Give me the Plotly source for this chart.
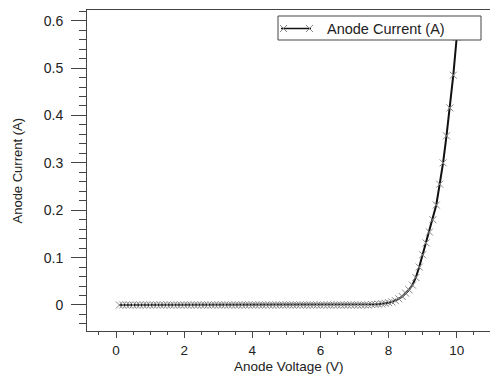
import plotly.graph_objects as go

# Anode voltage (V)
anode_voltage = [
    0.1, 0.2, 0.3, 0.4, 0.5, 0.6, 0.7, 0.8, 0.9, 1.0,
    1.1, 1.2, 1.3, 1.4, 1.5, 1.6, 1.7, 1.8, 1.9, 2.0,
    2.1, 2.2, 2.3, 2.4, 2.5, 2.6, 2.7, 2.8, 2.9, 3.0,
    3.1, 3.2, 3.3, 3.4, 3.5, 3.6, 3.7, 3.8, 3.9, 4.0,
    4.1, 4.2, 4.3, 4.4, 4.5, 4.6, 4.7, 4.8, 4.9, 5.0,
    5.1, 5.2, 5.3, 5.4, 5.5, 5.6, 5.7, 5.8, 5.9, 6.0,
    6.1, 6.2, 6.3, 6.4, 6.5, 6.6, 6.7, 6.8, 6.9, 7.0,
    7.1, 7.2, 7.3, 7.4, 7.5, 7.6, 7.7, 7.8, 7.9, 8.0,
    8.1, 8.2, 8.3, 8.4, 8.5, 8.6, 8.7, 8.8, 8.9, 9.0,
    9.1, 9.2, 9.3, 9.4, 9.5, 9.6, 9.7, 9.8, 9.9, 10.0,
]

# Anode current (A)
anode_current = [
    0.0, 0.0, 0.0, 0.0, 0.0, 0.0, 0.0, 0.0, 0.0, 0.0,
    0.0, 0.0, 0.0, 0.0, 0.0, 0.0, 0.0, 0.0, 0.0, 0.0,
    0.0, 0.0, 0.0, 0.0, 0.0, 0.0, 0.0, 0.0, 0.0, 0.0,
    0.0, 0.0, 0.0, 0.0, 0.0, 0.0, 0.0, 0.0, 0.0, 0.0,
    0.0, 0.0, 0.0, 0.0, 0.0, 0.0, 0.0, 0.0, 0.0, 0.0,
    0.0, 0.0, 0.0, 0.0, 0.0, 0.0, 0.0, 0.0, 0.0, 0.0,
    0.0, 0.0, 0.0, 0.0, 0.0, 0.0, 0.0, 0.0, 0.0, 0.0,
    0.0, 0.0, 0.0, 0.0, 0.001, 0.0013, 0.0018, 0.0025, 0.0035, 0.0048,
    0.0066, 0.0092, 0.013, 0.018, 0.025, 0.032, 0.042, 0.058, 0.080, 0.106,
    0.131, 0.154, 0.180, 0.211, 0.255, 0.300, 0.357, 0.416, 0.485, 0.565,
]

series_name = "Anode Current (A)"
x_title = "Anode Voltage (V)"
y_title = "Anode Current (A)"

FONT = "Liberation Sans, Arial, sans-serif"
AXIS = "#444444"
TEXT = "#222222"
LINE = "#111111"
MARK = "#888888"

W, H = 490, 376
ML, MR, MT, MB = 87, 0, 10, 45
PW, PH = W - ML - MR, H - MT - MB


def px(xp):
    return (xp - ML) / PW


def py(yp):
    return 1 - (yp - MT) / PH


fig = go.Figure()
fig.add_trace(go.Scatter(
    x=anode_voltage, y=anode_current, name=series_name,
    mode="lines+markers", showlegend=False,
    line=dict(color=LINE, width=2),
    marker=dict(symbol="x-thin", size=7, line=dict(color=MARK, width=1), color=MARK),
))

# hand-drawn legend box (matches the reference's legend key)
shapes = [
    dict(type="rect", xref="paper", yref="paper", layer="above",
         x0=px(278), x1=px(481), y0=py(40), y1=py(16),
         line=dict(color=AXIS, width=1), fillcolor="white"),
    dict(type="line", xref="paper", yref="paper", layer="above",
         x0=px(281), x1=px(311), y0=py(28.5), y1=py(28.5),
         line=dict(color=LINE, width=1.5)),
]
for cx in (283.5, 309.5):
    shapes.append(dict(type="line", xref="paper", yref="paper", layer="above",
                       x0=px(cx - 3.5), x1=px(cx + 3.5), y0=py(25), y1=py(32),
                       line=dict(color=MARK, width=1)))
    shapes.append(dict(type="line", xref="paper", yref="paper", layer="above",
                       x0=px(cx - 3.5), x1=px(cx + 3.5), y0=py(32), y1=py(25),
                       line=dict(color=MARK, width=1)))

fig.update_layout(
    width=W, height=H,
    margin=dict(l=ML, r=MR, t=MT, b=MB),
    paper_bgcolor="white", plot_bgcolor="white",
    font=dict(family=FONT, size=14, color=TEXT),
    showlegend=False,
    shapes=shapes,
    xaxis=dict(
        range=[-0.851, 10.977], showgrid=False, zeroline=False,
        showline=True, linecolor=AXIS, linewidth=1, mirror=True,
        ticks="outside", ticklen=6, tickcolor=AXIS, tickwidth=1,
        tick0=0, dtick=2, tickfont=dict(size=13.5, color=TEXT),
        ticklabelstandoff=1,
        minor=dict(ticks="outside", ticklen=3, dtick=0.5, tick0=0, tickcolor=AXIS, showgrid=False),
    ),
    yaxis=dict(
        range=[-0.0549, 0.6226], showgrid=False, zeroline=False,
        showline=True, linecolor=AXIS, linewidth=1,
        ticks="outside", ticklen=15, tickcolor=AXIS, tickwidth=1,
        tick0=0, dtick=0.1, tickfont=dict(size=14, color=TEXT),
        ticklabelstandoff=5,
        minor=dict(ticks="outside", ticklen=7, dtick=0.02, tick0=0, tickcolor=AXIS, showgrid=False),
    ),
    annotations=[
        dict(text=series_name, xref="paper", yref="paper", x=px(325), y=py(29),
             xanchor="left", yanchor="middle", showarrow=False,
             font=dict(size=14.5, color=TEXT, family=FONT)),
        dict(text=x_title, xref="paper", yref="paper", x=0.5, y=0,
             xanchor="center", yanchor="bottom", yshift=-45, showarrow=False,
             font=dict(size=13.5, color=TEXT, family=FONT)),
        dict(text=y_title, xref="paper", yref="paper", x=0, y=0.5,
             xanchor="center", yanchor="middle", xshift=-70, textangle=-90, showarrow=False,
             font=dict(size=13, color=TEXT, family=FONT)),
    ],
)

fig.write_html("out.html")
